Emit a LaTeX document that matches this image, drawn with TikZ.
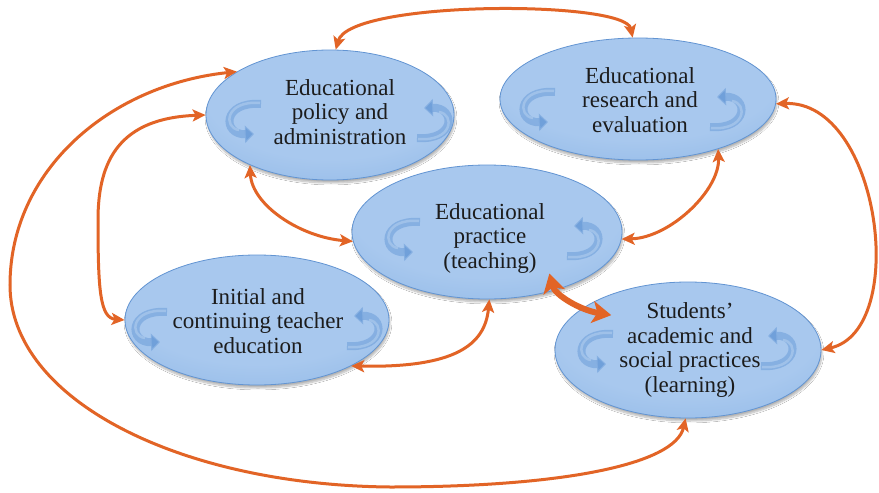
\documentclass[tikz,border=0pt]{standalone}
\usepackage{fontspec}
\setmainfont{Liberation Serif}
\usetikzlibrary{shapes.geometric,arrows.meta,shadows.blur}

\definecolor{ovalA}{RGB}{168,200,238}
\definecolor{ovalB}{RGB}{138,180,229}
\definecolor{ovalC}{RGB}{98,150,213}
\definecolor{ovalD}{RGB}{76,128,198}
\definecolor{ovalrim}{RGB}{98,148,210}
\definecolor{linkc}{RGB}{226,100,38}
\definecolor{iconc}{RGB}{112,160,218}
\definecolor{iconhi}{RGB}{190,215,243}
\definecolor{textc}{RGB}{28,28,28}

% soft glassy fill for the ovals, lighter towards the top
\pgfdeclareradialshading{ovalglow}{\pgfpoint{0bp}{12bp}}{%
  color(0bp)=(ovalA); color(25bp)=(ovalA); color(45bp)=(ovalB);
  color(58bp)=(ovalC); color(75bp)=(ovalD)}

\tikzset{
  oval/.style={ellipse, inner sep=0pt, shading=ovalglow, draw=ovalrim,
    line width=0.8pt,
    blur shadow={shadow xshift=1pt, shadow yshift=-3pt,
      shadow blur steps=8, shadow opacity=30}},
  txt/.style={align=center, text=textc, inner sep=0pt,
    font=\fontsize{23}{24.5}\selectfont},
  link/.style={draw=linkc, line width=3pt,
    {Stealth[length=13pt,width=12pt,inset=3pt]}-{Stealth[length=13pt,width=12pt,inset=3pt]}},
  biglink/.style={draw=linkc, line width=6pt,
    {Stealth[length=19pt,width=22pt,inset=5pt]}-{Stealth[length=19pt,width=22pt,inset=5pt]}},
  icon/.style={line width=8pt, draw=iconc, draw opacity=0.6,
    -{Triangle[length=9pt,width=17pt]}},
  iconshine/.style={line width=2.5pt, draw=iconhi, draw opacity=0.45},
  turnL/.pic={
    \draw[icon] (14,-16) .. controls (-25,-19) and (-25,15) .. (7,14);
    \draw[iconshine] (13,-17) .. controls (-22,-20) and (-24,8) .. (-8,10);},
  turnR/.pic={
    \draw[icon] (-14,16) .. controls (25,19) and (25,-15) .. (-7,-14);
    \draw[iconshine] (-13,17) .. controls (22,20) and (24,-8) .. (8,-10);},
}

\begin{document}
\begin{tikzpicture}[x=1pt,y=-1pt]
  \fill[white] (0,0) rectangle (879,493);
  \useasboundingbox (0,0) rectangle (879,493);

  % the five ovals
  \node[oval, minimum width=248pt, minimum height=130pt] (policy)   at (330,115) {};
  \node[oval, minimum width=276pt, minimum height=122pt] (research) at (638,99)  {};
  \node[oval, minimum width=270pt, minimum height=134pt] (practice) at (487,232) {};
  \node[oval, minimum width=264pt, minimum height=130pt] (teacher)  at (257,320) {};
  \node[oval, minimum width=266pt, minimum height=136pt] (students) at (688,350) {};

  % circular-arrow marks inside each oval
  \pic at (247,120) {turnL};  \pic at (431,122) {turnR};
  \pic at (541,108) {turnL};  \pic at (724,111) {turnR};
  \pic at (406,238) {turnL};  \pic at (581,240) {turnR};
  \pic at (153,328) {turnL};  \pic at (361,330) {turnR};
  \pic at (599,350) {turnL};  \pic at (775,350) {turnR};

  % labels
  \node[txt] (policyT)   at (340,112) {Educational\\policy and\\administration};
  \node[txt] (researchT) at (640,100) {Educational\\research and\\evaluation};
  \node[txt] (practiceT) at (490,238) {Educational\\practice\\(teaching)};
  \node[txt] (teacherT)  at (258,321) {Initial and\\continuing teacher\\education};
  \node[txt] (studentsT) at (690,350) {Students’\\academic and\\social practices\\(learning)};

  % two-way links
  \draw[link] (policy.85) .. controls (350,0) and (625,0) .. (research.95);
  \draw[link] (policy.155) .. controls (110,85) and (10,170) .. (10,285)
              .. controls (10,400) and (180,485) .. (390,487)
              .. controls (560,487) and (675,465) .. (students.268);
  \draw[link] (policy.180) .. controls (120,118) and (98,160) .. (98,220)
              .. controls (98,290) and (100,318) .. (teacher.180);
  \draw[link] (policy.212) .. controls (252,205) and (300,237) .. (practice.184);
  \draw[link] (research.328) .. controls (720,190) and (670,238) .. (practice.357);
  \draw[link] (research.358) .. controls (880,100) and (910,330) .. (students.0);
  \draw[link] (practice.272) .. controls (485,345) and (455,368) .. (teacher.334);
  \draw[biglink] ([shift={(-20,-12)}]practice.327) .. controls (555,295) and (580,310)
              .. ([shift={(24,10)}]students.156);
\end{tikzpicture}
\end{document}
